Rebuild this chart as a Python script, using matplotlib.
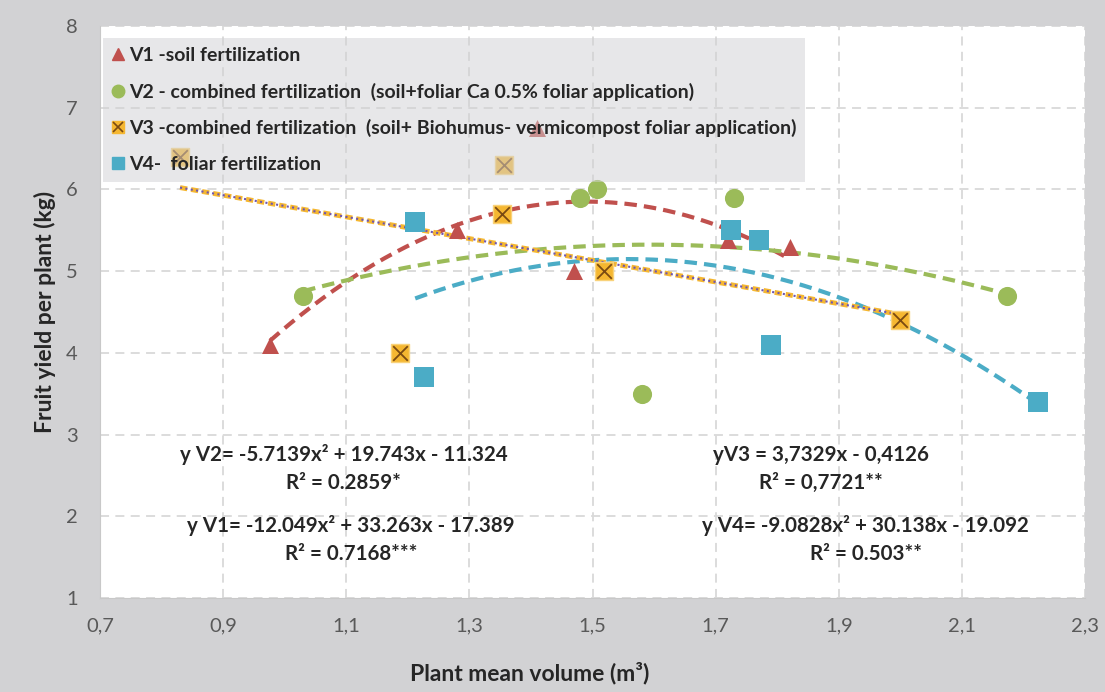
import numpy as np
import matplotlib
matplotlib.use('Agg')
from matplotlib import pyplot as plt
from matplotlib.lines import Line2D

# data (x = plant mean volume m3, y = fruit yield kg)
v1_x = [0.976, 1.28, 1.41, 1.47, 1.72, 1.82]
v1_y = [4.1, 5.5, 6.75, 5.0, 5.38, 5.3]
v2_x = [1.03, 1.48, 1.507, 1.58, 1.73, 2.173]
v2_y = [4.7, 5.9, 6.0, 3.5, 5.9, 4.7]
v3_x = [0.83, 1.187, 1.353, 1.356, 1.519, 2.0]
v3_y = [6.4, 4.0, 5.7, 6.3, 5.0, 4.4]
v4_x = [1.212, 1.226, 1.725, 1.77, 1.79, 2.224]
v4_y = [5.6, 3.7, 5.5, 5.38, 4.1, 3.4]

labels = ['V1 -soil fertilization',
          'V2 - combined fertilization  (soil+foliar Ca 0.5% foliar application)',
          'V3 -combined fertilization  (soil+ Biohumus- vermicompost foliar application)',
          'V4-  foliar fertilization']
eq_texts = ['y V2= -5.7139x\u00b2 + 19.743x - 11.324\nR\u00b2 = 0.2859*',
            'y V1= -12.049x\u00b2 + 33.263x - 17.389\nR\u00b2 = 0.7168***',
            'yV3 = 3,7329x - 0,4126\nR\u00b2 = 0,7721**',
            'y V4= -9.0828x\u00b2 + 30.138x - 19.092\nR\u00b2 = 0.503**']
xticks = [0.7, 0.9, 1.1, 1.3, 1.5, 1.7, 1.9, 2.1, 2.3]
yticks = [1, 2, 3, 4, 5, 6, 7, 8]

red = '#c0504d'
green = '#9bbb59'
orange = '#f5b731'
teal = '#4bacc6'
brown = '#7a4a12'

plt.rcParams['font.family'] = ['Lato', 'DejaVu Sans']

fig = plt.figure(figsize=(11.05, 6.92), dpi=100, facecolor='#d2d2d4')
ax = fig.add_axes([100/1105, 1 - 598/692, 985/1105, 572/692])
ax.set_facecolor('white')

ax.set_xlim(0.7, 2.3)
ax.set_ylim(1, 8)
ax.set_xticks(xticks)
ax.set_yticks(yticks)
ax.set_xticklabels([('%.1f' % t).replace('.', ',') for t in xticks])
ax.set_yticklabels([str(t) for t in yticks])
ax.tick_params(length=0, labelsize=14.5, labelcolor='#595959')
ax.tick_params(axis='x', pad=14)
ax.tick_params(axis='y', pad=16)
ax.grid(True, color='#d9d9d9', linestyle=(0, (5, 3.5)), linewidth=1.3)
ax.set_axisbelow(True)
for s in ['top', 'right']:
    ax.spines[s].set_visible(False)
for s in ['left', 'bottom']:
    ax.spines[s].set_color('#c8c8c8')

# trend lines (least squares fit of each series)
def trend(xs, ys, deg):
    c = np.polyfit(xs, ys, deg)
    xx = np.linspace(min(xs), max(xs), 200)
    return xx, np.polyval(c, xx)

xx, yy = trend(v1_x, v1_y, 2)
ax.plot(xx, yy, color=red, lw=3, dashes=(3, 1.7), zorder=3)
xx, yy = trend(v2_x, v2_y, 2)
ax.plot(xx, yy, color=green, lw=3, dashes=(3, 1.7), zorder=3)
xx, yy = trend(v4_x, v4_y, 2)
ax.plot(xx, yy, color=teal, lw=3, dashes=(3, 1.7), zorder=3)
xx, yy = trend(v3_x, v3_y, 1)
ax.plot(xx, yy, color=orange, lw=3.5, linestyle=(0, (1.5, 0.8)), zorder=3)
ax.plot(xx, yy, color='#6f55b0', lw=1.5, linestyle=(0, (1, 1.6)), zorder=3)

# points
ax.scatter(v1_x, v1_y, marker='^', s=150, color=red, zorder=4, linewidths=0)
ax.scatter(v2_x, v2_y, marker='o', s=190, color=green, zorder=4, linewidths=0)
ax.scatter(v3_x, v3_y, marker='s', s=170, color=orange, edgecolors='#f9d27a', linewidths=1, zorder=4)
ax.scatter(v3_x, v3_y, marker='x', s=110, color=brown, linewidths=1.3, zorder=5)
ax.scatter(v4_x, v4_y, marker='s', s=190, color=teal, zorder=4, linewidths=0)

# legend
handles = [Line2D([], [], linestyle='none', marker='^', color=red, markersize=9),
           Line2D([], [], linestyle='none', marker='o', color=green, markersize=9),
           (Line2D([], [], linestyle='none', marker='s', color=orange, markersize=9),
            Line2D([], [], linestyle='none', marker='x', color=brown, markersize=7, markeredgewidth=1.2)),
           Line2D([], [], linestyle='none', marker='s', color=teal, markersize=9)]
leg = ax.legend(handles, labels, loc='upper left', bbox_to_anchor=(0.003, 0.979),
                borderaxespad=0, frameon=True, fancybox=False, framealpha=0.5,
                facecolor='#d1d1d4', edgecolor='none', handlelength=0.6,
                handletextpad=0.3, labelspacing=0.96, borderpad=0.45,
                prop={'size': 14, 'weight': 'bold'})
for t in leg.get_texts():
    t.set_color('#262626')

# equation annotations
eq_pos = [(1.096, 2.58), (1.108, 1.72), (1.871, 2.58), (1.944, 1.72)]
for txt, (px, py) in zip(eq_texts, eq_pos):
    ax.text(px, py, txt, ha='center', va='center', fontsize=14.8, fontweight='bold',
            color='#262626', linespacing=1.5)

ax.set_xlabel('Plant mean volume (m\u00b3)', fontsize=16.5, fontweight='bold', color='#262626')
ax.xaxis.set_label_coords((530 - 100) / 985, -(673 - 598) / 572)
ax.set_ylabel('Fruit yield per plant (kg)', fontsize=16.5, fontweight='bold', color='#262626')
ax.yaxis.set_label_coords(-(100 - 45) / 985, 0.5)
ax.xaxis.label.set_va('center')
ax.yaxis.label.set_va('center')

fig.savefig('out.png', dpi=100, facecolor=fig.get_facecolor())
